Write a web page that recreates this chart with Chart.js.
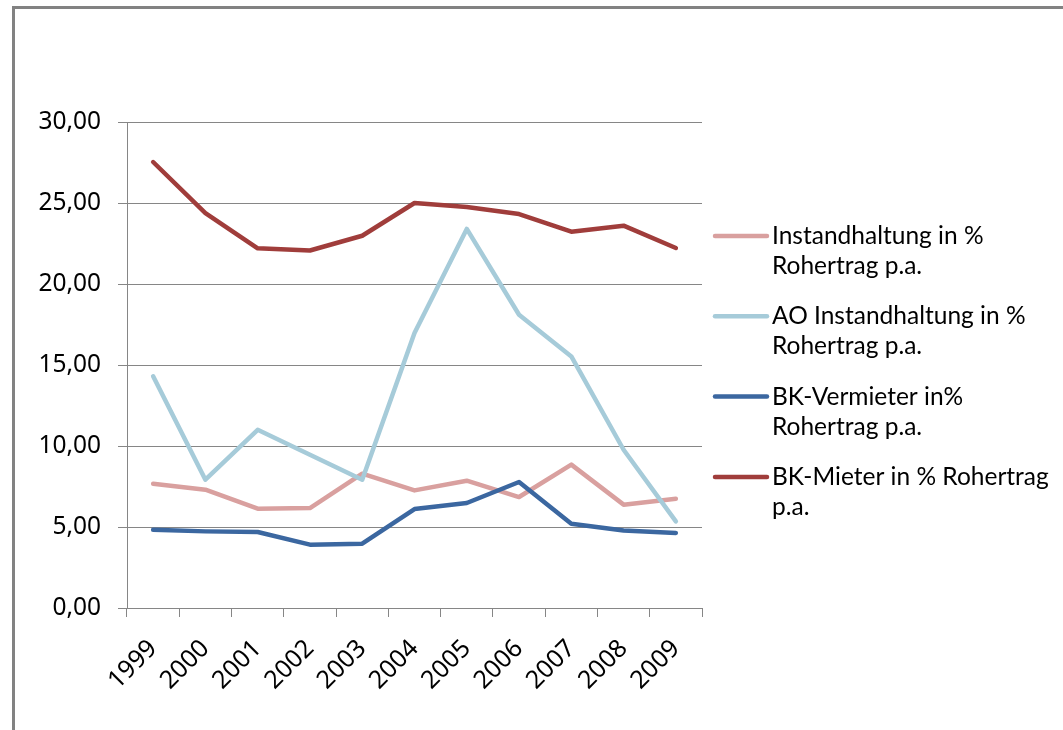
<!DOCTYPE html>
<html>
<head>
<meta charset="utf-8">
<script src="https://cdn.jsdelivr.net/npm/chart.js@4.4.0/dist/chart.umd.min.js"></script>
<style>
  html, body { margin: 0; padding: 0; background: #fff; }
  #wrap { position: relative; width: 1063px; height: 730px; overflow: hidden; }
  #frame { position: absolute; left: 12px; top: 6px; width: 1100px; height: 800px;
           border-left: 3px solid #828282; border-top: 3px solid #828282; }
  canvas { position: absolute; left: 0; top: 0; }
</style>
</head>
<body>
<div id="wrap">
  <div id="frame"></div>
  <canvas id="c" width="1063" height="730"></canvas>
</div>
<script>
const years = ['1999','2000','2001','2002','2003','2004','2005','2006','2007','2008','2009'];

const instandhaltung   = [7.67, 7.30, 6.13, 6.17, 8.29, 7.26, 7.86, 6.85, 8.85, 6.38, 6.75];
const aoInstandhaltung = [14.30, 7.92, 11.00, 9.46, 7.92, 16.98, 23.40, 18.10, 15.53, 9.77, 5.35];
const bkVermieter      = [4.83, 4.73, 4.69, 3.91, 3.97, 6.11, 6.48, 7.78, 5.20, 4.79, 4.63];
const bkMieter         = [27.53, 24.38, 22.20, 22.07, 22.98, 25.00, 24.75, 24.32, 23.23, 23.60, 22.22];

const seriesNames = [
  ['Instandhaltung in %', 'Rohertrag p.a.'],
  ['AO Instandhaltung in %', 'Rohertrag p.a.'],
  ['BK-Vermieter in%', 'Rohertrag p.a.'],
  ['BK-Mieter in % Rohertrag', 'p.a.']
];
const seriesColors = ['#D9A09F', '#A6CBD9', '#3B67A0', '#A03D3B'];
const seriesValues = [instandhaltung, aoInstandhaltung, bkVermieter, bkMieter];

const yTicks = [0, 5, 10, 15, 20, 25, 30];

const TICK_FONT = "'Noto Sans', 'Open Sans', sans-serif";
const LEGEND_FONT = 'Lato';

function draw() {
  const datasets = seriesValues.map((vals, i) => ({
    label: seriesNames[i].join(' '),
    data: vals,
    borderColor: seriesColors[i],
    backgroundColor: seriesColors[i],
    borderWidth: 4.5,
    pointRadius: 0,
    tension: 0,
    borderCapStyle: 'round',
    borderJoinStyle: 'round',
    order: seriesValues.length - i
  }));

  const sideLegend = {
    id: 'sideLegend',
    afterDraw(chart) {
      const ctx = chart.ctx;
      ctx.save();
      ctx.font = '24.5px ' + LEGEND_FONT;
      ctx.fillStyle = '#000';
      ctx.textBaseline = 'middle';
      ctx.textAlign = 'left';
      seriesNames.forEach((lines, i) => {
        const y = 236 + i * 80.3;
        ctx.strokeStyle = seriesColors[i];
        ctx.lineWidth = 4.5;
        ctx.lineCap = 'round';
        ctx.beginPath();
        ctx.moveTo(715, y);
        ctx.lineTo(767, y);
        ctx.stroke();
        lines.forEach((t, j) => ctx.fillText(t, 772, y + j * 30));
      });
      ctx.restore();
    }
  };

  new Chart(document.getElementById('c'), {
    type: 'line',
    data: { labels: years, datasets },
    plugins: [sideLegend],
    options: {
      responsive: false,
      animation: false,
      devicePixelRatio: 1,
      layout: { padding: { top: 122, right: 361, left: 0, bottom: 0 } },
      plugins: { legend: { display: false }, tooltip: { enabled: false } },
      scales: {
        x: {
          offset: true,
          grid: { display: true, drawOnChartArea: false, drawTicks: true, tickLength: 9, offset: true, color: '#868686', lineWidth: 1 },
          border: { display: true, color: '#868686', width: 1 },
          ticks: { color: '#000', font: { family: TICK_FONT, size: 25 }, minRotation: 45, maxRotation: 45, padding: 17, autoSkip: false },
          afterFit(s) { s.height = 122; }
        },
        y: {
          min: 0, max: 30,
          afterBuildTicks(s) { s.ticks = yTicks.map(v => ({ value: v })); },
          grid: { color: '#868686', lineWidth: 1, tickLength: 9 },
          border: { display: true, color: '#868686', width: 1 },
          ticks: {
            color: '#000',
            font: { family: TICK_FONT, size: 24.5 },
            padding: 17,
            callback: v => v.toFixed(2).replace('.', ',')
          },
          afterFit(s) { s.width = 127; }
        }
      }
    }
  });
}

Promise.all([
  document.fonts.load("25px 'Noto Sans'"),
  document.fonts.load('24.5px Lato')
]).then(draw, draw);
</script>
</body>
</html>
